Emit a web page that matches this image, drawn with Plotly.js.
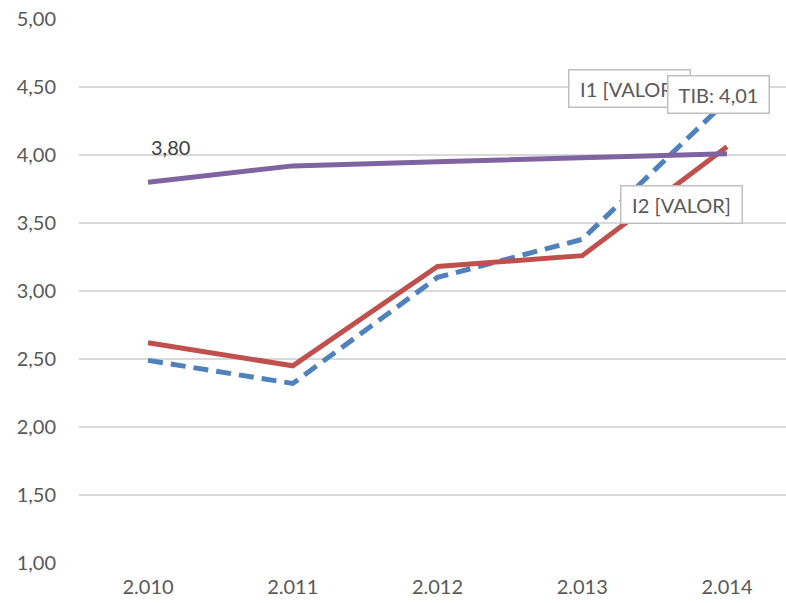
<!DOCTYPE html>
<html>
<head>
<meta charset="utf-8">
<script src="https://cdn.plot.ly/plotly-3.0.1.min.js"></script>
<style>html,body{margin:0;padding:0;background:#fff;}#chart{width:786px;height:603px;}</style>
</head>
<body>
<div id="chart"></div>
<script>
const years = ["2.010", "2.011", "2.012", "2.013", "2.014"];
const yTickVals = [1, 1.5, 2, 2.5, 3, 3.5, 4, 4.5, 5];
const yTickText = ["1,00", "1,50", "2,00", "2,50", "3,00", "3,50", "4,00", "4,50", "5,00"];
const i1 = [2.49, 2.32, 3.10, 3.38, 4.40];
const i2 = [2.62, 2.45, 3.18, 3.26, 4.06];
const tib = [3.80, 3.92, 3.95, 3.98, 4.01];

const xIdx = years.map((_, i) => i);
const font = "Lato, 'Open Sans', sans-serif";

const traces = [
  {x: xIdx, y: i1, name: "I1", type: "scatter", mode: "lines",
   line: {color: "#4f81bd", width: 5, dash: "15px,8px"}},
  {x: xIdx, y: i2, name: "I2", type: "scatter", mode: "lines",
   line: {color: "#c0504d", width: 5}},
  {x: xIdx, y: tib, name: "TIB", type: "scatter", mode: "lines",
   line: {color: "#8064a2", width: 5}}
];

const boxStyle = {showarrow: false, bgcolor: "#ffffff", bordercolor: "#bfbfbf", borderwidth: 1.5,
  font: {family: font, size: 20, color: "#595959"}, width: 118, height: 34, xref: "x", yref: "y"};

const annotations = [
  {text: (tib[0].toFixed(2)).replace(".", ","), x: 0, y: tib[0], xref: "x", yref: "y",
   showarrow: false, xshift: 22, yshift: 35, font: {family: font, size: 20, color: "#404040"}},
  Object.assign({}, boxStyle, {text: "I1 [VALOR]", x: 4, y: i1[4], xshift: -97, yshift: 12}),
  Object.assign({}, boxStyle, {text: "TIB: " + tib[4].toFixed(2).replace(".", ","), x: 4, y: tib[4], xshift: -8, yshift: 59, width: 98}),
  Object.assign({}, boxStyle, {text: "I2 [VALOR]", x: 4, y: i2[4], xshift: -45, yshift: -58})
];

const layout = {
  width: 786, height: 603,
  margin: {l: 79, r: 0, t: 19, b: 40},
  paper_bgcolor: "#ffffff", plot_bgcolor: "#ffffff",
  showlegend: false,
  font: {family: font, size: 20, color: "#595959"},
  xaxis: {
    tickmode: "array", tickvals: xIdx, ticktext: years,
    range: [-0.477, 4.408], showgrid: false, zeroline: false, showline: false,
    ticks: "", ticklabelstandoff: 10,
    tickfont: {family: font, size: 20, color: "#595959"}
  },
  yaxis: {
    range: [1, 5], tickmode: "array", tickvals: yTickVals, ticktext: yTickText,
    showgrid: true, gridcolor: "#d9d9d9", gridwidth: 1.5, zeroline: false, showline: false,
    ticks: "", ticklabelstandoff: 22,
    tickfont: {family: font, size: 20, color: "#595959"}
  },
  annotations: annotations
};

Plotly.newPlot("chart", traces, layout, {staticPlot: true, displayModeBar: false});
</script>
</body>
</html>
